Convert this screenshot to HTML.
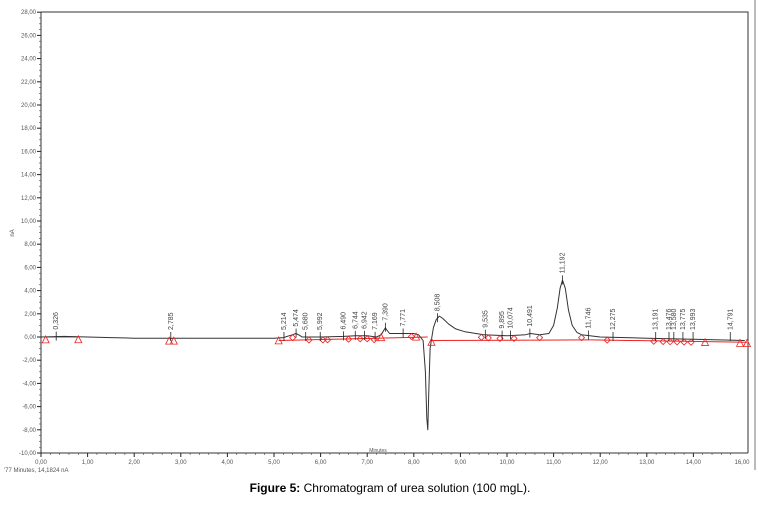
<!DOCTYPE html>
<html><head><meta charset="utf-8"><style>
body{margin:0;background:#fff;width:758px;height:501px;overflow:hidden;font-family:"Liberation Sans",sans-serif}
svg text{font-family:"Liberation Sans",sans-serif}
</style></head><body>
<svg id="c" width="758" height="501"></svg>
<script>
const traceTimes=[0,0.5,1.0,1.5,2,3,4,5,5.2,5.4,5.47,5.55,5.6,6,6.5,6.75,7,7.2,7.3,7.36,7.39,7.42,7.48,7.7,8,8.1,8.2,8.25,8.28,8.3,8.32,8.35,8.38,8.42,8.48,8.55,8.62,8.75,8.9,9.1,9.5,10,10.4,10.5,10.7,10.9,11.0,11.08,11.14,11.19,11.25,11.32,11.4,11.5,11.6,12,13,14,15.1];
const traceValues=[0,0.05,0,-0.05,-0.1,-0.1,-0.1,-0.1,-0.05,0.2,0.3,0.15,0.0,0,0.05,0.1,0.1,0,0.2,0.6,0.8,0.6,0.3,0.3,0.3,0.2,-0.3,-3,-7,-8,-5,-1,-0.2,0.8,1.5,1.8,1.6,1.1,0.7,0.45,0.2,0.1,0.2,0.3,0.2,0.3,1.0,2.5,4.2,4.9,4.2,2.3,1.0,0.4,0.2,0.0,-0.1,-0.2,-0.3];
const peakTimes=[0.326,2.785,5.214,5.474,5.68,5.992,6.49,6.744,6.942,7.169,7.39,7.771,8.508,9.535,9.895,10.074,10.491,11.192,11.746,12.275,13.191,13.476,13.58,13.775,13.993,14.791];
const peakLabels=["0,326","2,785","5,214","5,474","5,680","5,992","6,490","6,744","6,942","7,169","7,390","7,771","8,508","9,535","9,895","10,074","10,491","11,192","11,746","12,275","13,191","13,476","13,580","13,775","13,993","14,791"];
const triTimes=[0.1,0.8,2.75,2.85,5.1,7.3,8.05,8.38,14.25,15.0,15.15];
const diaTimes=[5.4,5.75,6.05,6.15,6.6,6.85,7.0,7.15,7.95,9.45,9.6,9.85,10.15,10.7,11.6,12.15,13.15,13.35,13.5,13.65,13.8,13.95];
const yTicks=[-10,-8,-6,-4,-2,0,2,4,6,8,10,12,14,16,18,20,22,24,26,28];
const xTicks=[0,1,2,3,4,5,6,7,8,9,10,11,12,13,14];
const NS="http://www.w3.org/2000/svg",svg=document.getElementById('c');
const X=t=>41+t*46.6, Y=v=>337-v*11.6;
function el(tag,a,p){const e=document.createElementNS(NS,tag);for(const k in a)e.setAttribute(k,a[k]);(p||svg).appendChild(e);return e;}
function interp(t){for(let i=1;i<traceTimes.length;i++){if(t<=traceTimes[i]){const a=traceTimes[i-1],b=traceTimes[i];return traceValues[i-1]+(traceValues[i]-traceValues[i-1])*(t-a)/(b-a);}}return traceValues[traceValues.length-1];}
let f=el('path',{d:`M41 12H748V453M41 12V453H748`,stroke:'#333','stroke-width':1,fill:'none'});

let rb=el('line',{x1:755,y1:0,x2:755,y2:470,stroke:'#bbb','stroke-width':2});

yTicks.forEach(v=>{el('line',{x1:37,x2:41,y1:Y(v),y2:Y(v),stroke:'#222'});
for(let m=0.5;m<2&&v<28;m+=0.5)el('line',{x1:39,x2:41,y1:Y(v+m),y2:Y(v+m),stroke:'#444','stroke-width':0.6});
const t=el('text',{x:36,y:Y(v)+2,'font-size':6,fill:'#555','text-anchor':'end'});t.textContent=v.toFixed(2).replace('.',',');
});
xTicks.forEach(v=>{el('line',{x1:X(v),x2:X(v),y1:453,y2:457,stroke:'#222'});
for(let m=0.2;m<1&&v<15;m+=0.2)el('line',{x1:X(v+m),x2:X(v+m),y1:453,y2:455,stroke:'#444','stroke-width':0.6});
const t=el('text',{x:X(v),y:464,'font-size':6,fill:'#555','text-anchor':'middle'});t.textContent=v.toFixed(2).replace('.',',');
});
let e16=el('text',{x:742,y:464,'font-size':6,fill:'#555','text-anchor':'middle'});e16.textContent='16,00';

let yt=el('text',{x:14,y:233,'font-size':6,fill:'#555','text-anchor':'middle',transform:'rotate(-90 14 233)'});yt.textContent='nA';

let xt=el('text',{x:378,y:452,'font-size':5,fill:'#555','text-anchor':'middle'});xt.textContent='Minutes';

let st=el('text',{x:4,y:472,'font-size':6,fill:'#555'});st.textContent="'77 Minutes, 14,1824 nA";

const bl=[[0.1,0,0.8,0],[5.1,-0.3,8.3,0],[8.38,-0.3,11.8,-0.25],[11.8,-0.25,15.15,-0.45]];
bl.forEach(b=>{const l=el('line',{x1:X(b[0]),y1:Y(b[1]),x2:X(b[2]),y2:Y(b[3]),stroke:'#e22','stroke-width':1});
});
let d=traceTimes.map((t,i)=>(i?'L':'M')+X(t).toFixed(1)+' '+Y(traceValues[i]).toFixed(1)).join('');
let tr=el('path',{d,stroke:'#333','stroke-width':1,fill:'none','stroke-linejoin':'round'});

triTimes.forEach(t=>{const x=X(t),y=Y(interp(t))+2;const m=el('path',{d:`M${x-3.5} ${y+4}L${x} ${y-3}L${x+3.5} ${y+4}Z`,fill:'none',stroke:'#e22','stroke-width':0.8});
});
diaTimes.forEach(t=>{const x=X(t),y=Y(interp(t))+3;const m=el('path',{d:`M${x} ${y-3}L${x+3} ${y}L${x} ${y+3}L${x-3} ${y}Z`,fill:'none',stroke:'#e22','stroke-width':0.8});
});
peakTimes.forEach((t,i)=>{const x=X(t),v=interp(t),y=Y(Math.max(v,0));
el('line',{x1:x,x2:x,y1:y-5,y2:y+4,stroke:'#222','stroke-width':0.8});
const ty=y-7;const tx=el('text',{x:x+2,y:ty,'font-size':7,fill:'#444',transform:`rotate(-90 ${x+2} ${ty})`});
tx.textContent=peakLabels[i];});
let cap=el('text',{x:390,y:492,'font-size':12,fill:'#000','text-anchor':'middle'});
cap.innerHTML='<tspan font-weight="bold">Figure 5:</tspan> Chromatogram of urea solution (100 mgL).';

</script>
</body></html>
